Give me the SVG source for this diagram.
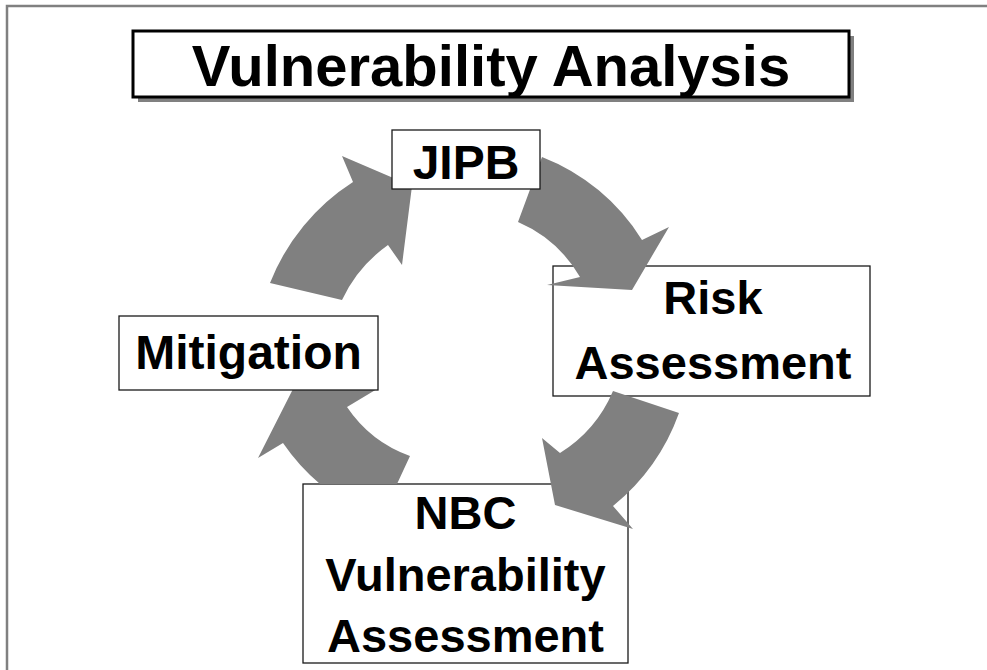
<svg xmlns="http://www.w3.org/2000/svg" width="987" height="670" viewBox="0 0 987 670">
<style>
.box{fill:#fff;stroke:#1a1a1a;stroke-width:1.3}
.lbl{font-family:"Liberation Sans",Arial,sans-serif;font-weight:bold;fill:#000;text-anchor:middle}
.arrow{fill:#808080;stroke:none}
</style>
<rect x="0" y="0" width="987" height="670" fill="#fff"/>
<path d="M7,670 V6 H987" fill="none" stroke="#808080" stroke-width="2.5"/>
<g id="title">
<rect x="138" y="36" width="716" height="66" fill="#808080"/>
<rect x="133" y="31" width="716" height="66" fill="#fff" stroke="#000" stroke-width="3"/>
<text class="lbl" x="491" y="86" font-size="58">Vulnerability Analysis</text>
</g>
<g id="node-risk">
<rect class="box" x="553" y="266" width="317" height="130"/>
<text class="lbl" x="713" y="314" font-size="47">Risk</text>
<text class="lbl" x="713" y="379" font-size="47">Assessment</text>
</g>
<g id="node-nbc">
<rect class="box" x="303" y="484" width="325" height="179"/>
<text class="lbl" x="465.5" y="529" font-size="47">NBC</text>
<text class="lbl" x="465.5" y="591" font-size="47">Vulnerability</text>
<text class="lbl" x="465.5" y="652" font-size="47">Assessment</text>
</g>
<g id="connectors">
<path class="arrow" d="M270,283 A212,212 0 0 1 353,182 L342,156 L412,186 L402,265 L388,245 A140,140 0 0 0 342,300 Z"/>
<path class="arrow" d="M542,157 A205,205 0 0 1 642,240 L669,227 L632,290 L547,285 L580,277 A132,132 0 0 0 518,222 Z"/>
<path class="arrow" d="M679,413 A212,212 0 0 1 613,506 L633,529 L555,505 L542,438 L560,453 A135,135 0 0 0 613,391 Z"/>
<path class="arrow" d="M320,484 A205,205 0 0 1 283,443 L258,458 L293,389 L377,389 L347,407 A128,128 0 0 0 410,456 L397,484 Z"/>
</g>
<g id="node-jipb">
<rect class="box" x="392" y="130" width="148" height="59"/>
<text class="lbl" x="466" y="179" font-size="48">JIPB</text>
</g>
<g id="node-mitigation">
<rect class="box" x="119" y="316" width="259" height="74"/>
<text class="lbl" x="248.5" y="369" font-size="48">Mitigation</text>
</g>
</svg>
